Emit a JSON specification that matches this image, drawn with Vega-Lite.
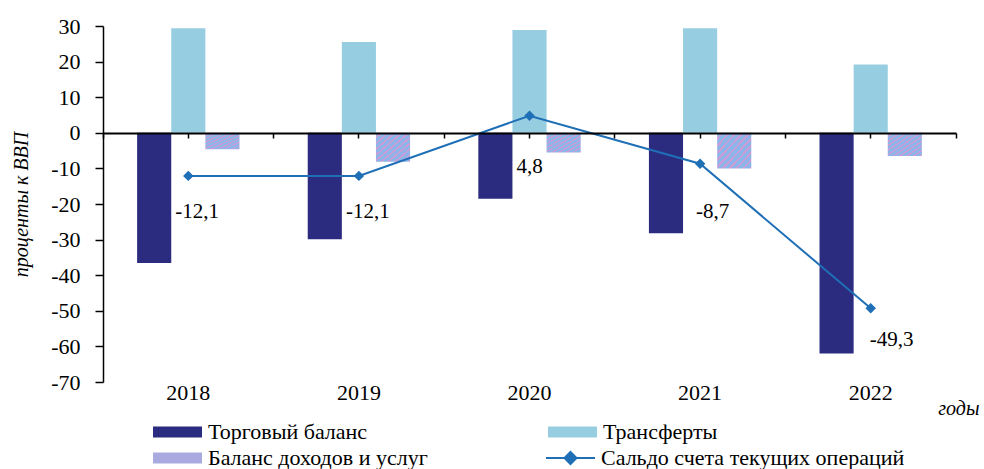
{
  "$schema": "https://vega.github.io/schema/vega-lite/v6.json",
  "width": 853,
  "height": 356,
  "autosize": {"type": "none"},
  "padding": {"left": 103, "top": 26, "right": 28, "bottom": 87},
  "background": "white",
  "config": {
    "view": {"stroke": null},
    "locale": {"number": {"decimal": ",", "thousands": " ", "grouping": [3], "currency": ["", ""], "minus": "-"}},
    "font": "Liberation Serif",
    "axis": {"labelFont": "Liberation Serif", "titleFont": "Liberation Serif", "labelColor": "black", "titleColor": "black", "grid": false},
    "legend": {"labelFont": "Liberation Serif"}
  },
  "datasets": {
    "bars": [
      {"year": "2018", "series": "Торговый баланс", "value": -36.6},
      {"year": "2018", "series": "Трансферты", "value": 29.4},
      {"year": "2018", "series": "Баланс доходов и услуг", "value": -4.6},
      {"year": "2019", "series": "Торговый баланс", "value": -29.9},
      {"year": "2019", "series": "Трансферты", "value": 25.5},
      {"year": "2019", "series": "Баланс доходов и услуг", "value": -8.1},
      {"year": "2020", "series": "Торговый баланс", "value": -18.5},
      {"year": "2020", "series": "Трансферты", "value": 28.9},
      {"year": "2020", "series": "Баланс доходов и услуг", "value": -5.5},
      {"year": "2021", "series": "Торговый баланс", "value": -28.2},
      {"year": "2021", "series": "Трансферты", "value": 29.4},
      {"year": "2021", "series": "Баланс доходов и услуг", "value": -10.0},
      {"year": "2022", "series": "Торговый баланс", "value": -62.0},
      {"year": "2022", "series": "Трансферты", "value": 19.2},
      {"year": "2022", "series": "Баланс доходов и услуг", "value": -6.5}
    ],
    "ca": [
      {"year": "2018", "series": "Сальдо счета текущих операций", "value": -12.1},
      {"year": "2019", "series": "Сальдо счета текущих операций", "value": -12.1},
      {"year": "2020", "series": "Сальдо счета текущих операций", "value": 4.8},
      {"year": "2021", "series": "Сальдо счета текущих операций", "value": -8.7},
      {"year": "2022", "series": "Сальдо счета текущих операций", "value": -49.3}
    ]
  },
  "encoding": {
    "y": {
      "field": "value", "type": "quantitative",
      "scale": {"domain": [-70, 30], "nice": false, "zero": false},
      "axis": {"values": [-70, -60, -50, -40, -30, -20, -10, 0, 10, 20, 30], "format": "d", "labelOverlap": false, "labelFont": "Liberation Serif", "labelFontSize": 22, "labelPadding": 15, "tickSize": 8, "tickColor": "black", "tickWidth": 1.5, "domainColor": "black", "domainWidth": 1.5, "title": "проценты к ВВП", "titleFont": "Liberation Serif", "titleFontStyle": "italic", "titleFontWeight": "normal", "titleFontSize": 20, "titlePadding": 19}
    }
  },
  "resolve": {"axis": {"x": "independent", "y": "shared"}},
  "layer": [
    {
      "data": {"name": "bars"},
      "mark": {"type": "bar", "orient": "vertical"},
      "encoding": {
        "x": {
          "field": "year", "type": "nominal",
          "scale": {"paddingInner": 0, "paddingOuter": 0},
          "axis": {"orient": "bottom", "domain": false, "ticks": false, "labelAngle": 0, "labelFont": "Liberation Serif", "labelFontSize": 22, "labelPadding": 0, "title": "годы", "titleFont": "Liberation Serif", "titleFontStyle": "italic", "titleFontWeight": "normal", "titleFontSize": 20, "titleAnchor": "end", "titleAlign": "right", "titleBaseline": "middle", "titleX": 876, "titleY": 26}
        },
        "xOffset": {"field": "series", "type": "nominal", "scale": {"domain": ["Торговый баланс", "Трансферты", "Баланс доходов и услуг"], "paddingInner": 0, "paddingOuter": 1}},
        "fill": {
          "field": "series", "type": "nominal",
          "scale": {"domain": ["Торговый баланс", "Трансферты", "Баланс доходов и услуг"], "range": ["#2b2c80", "#97cde0", "#a9abe0"]},
          "condition": {"test": "datum.series === 'Баланс доходов и услуг'", "value": {"gradient": "linear", "x1": 0, "y1": 0, "x2": 1, "y2": 1, "stops": [
            {"offset": 0, "color": "#8ab4ea"}, {"offset": 0.0625, "color": "#8ab4ea"}, {"offset": 0.0625, "color": "#c99dd6"}, {"offset": 0.1, "color": "#c99dd6"},
            {"offset": 0.1, "color": "#8ab4ea"}, {"offset": 0.1625, "color": "#8ab4ea"}, {"offset": 0.1625, "color": "#c99dd6"}, {"offset": 0.2, "color": "#c99dd6"},
            {"offset": 0.2, "color": "#8ab4ea"}, {"offset": 0.2625, "color": "#8ab4ea"}, {"offset": 0.2625, "color": "#c99dd6"}, {"offset": 0.3, "color": "#c99dd6"},
            {"offset": 0.3, "color": "#8ab4ea"}, {"offset": 0.3625, "color": "#8ab4ea"}, {"offset": 0.3625, "color": "#c99dd6"}, {"offset": 0.4, "color": "#c99dd6"},
            {"offset": 0.4, "color": "#8ab4ea"}, {"offset": 0.4625, "color": "#8ab4ea"}, {"offset": 0.4625, "color": "#c99dd6"}, {"offset": 0.5, "color": "#c99dd6"},
            {"offset": 0.5, "color": "#8ab4ea"}, {"offset": 0.5625, "color": "#8ab4ea"}, {"offset": 0.5625, "color": "#c99dd6"}, {"offset": 0.6, "color": "#c99dd6"},
            {"offset": 0.6, "color": "#8ab4ea"}, {"offset": 0.6625, "color": "#8ab4ea"}, {"offset": 0.6625, "color": "#c99dd6"}, {"offset": 0.7, "color": "#c99dd6"},
            {"offset": 0.7, "color": "#8ab4ea"}, {"offset": 0.7625, "color": "#8ab4ea"}, {"offset": 0.7625, "color": "#c99dd6"}, {"offset": 0.8, "color": "#c99dd6"},
            {"offset": 0.8, "color": "#8ab4ea"}, {"offset": 0.8625, "color": "#8ab4ea"}, {"offset": 0.8625, "color": "#c99dd6"}, {"offset": 0.9, "color": "#c99dd6"},
            {"offset": 0.9, "color": "#8ab4ea"}, {"offset": 0.9625, "color": "#8ab4ea"}, {"offset": 0.9625, "color": "#c99dd6"}, {"offset": 1, "color": "#c99dd6"}
          ]}},
          "legend": {
            "orient": "none", "legendX": 63.5, "legendY": 395, "columns": 2, "direction": "horizontal", "title": null,
            "labelFont": "Liberation Serif", "labelFontSize": 22, "labelColor": "black", "labelLimit": 400,
            "symbolType": "M-2.45,-0.55H2.45V0.55H-2.45Z", "symbolSize": 400, "symbolStrokeWidth": 0, "symbolOffset": 0, "labelOffset": 19.5,
            "columnPadding": 119, "rowPadding": 4, "gridAlign": "all",
            "encode": {"symbols": {"update": {"fill": [
              {"test": "datum.value === 'Баланс доходов и услуг'", "value": {"gradient": "linear", "x1": 0, "y1": 0, "x2": 1, "y2": 1, "stops": [
                {"offset": 0, "color": "#8ab4ea"}, {"offset": 0.0625, "color": "#8ab4ea"}, {"offset": 0.0625, "color": "#c99dd6"}, {"offset": 0.1, "color": "#c99dd6"},
                {"offset": 0.1, "color": "#8ab4ea"}, {"offset": 0.1625, "color": "#8ab4ea"}, {"offset": 0.1625, "color": "#c99dd6"}, {"offset": 0.2, "color": "#c99dd6"},
                {"offset": 0.2, "color": "#8ab4ea"}, {"offset": 0.2625, "color": "#8ab4ea"}, {"offset": 0.2625, "color": "#c99dd6"}, {"offset": 0.3, "color": "#c99dd6"},
                {"offset": 0.3, "color": "#8ab4ea"}, {"offset": 0.3625, "color": "#8ab4ea"}, {"offset": 0.3625, "color": "#c99dd6"}, {"offset": 0.4, "color": "#c99dd6"},
                {"offset": 0.4, "color": "#8ab4ea"}, {"offset": 0.4625, "color": "#8ab4ea"}, {"offset": 0.4625, "color": "#c99dd6"}, {"offset": 0.5, "color": "#c99dd6"},
                {"offset": 0.5, "color": "#8ab4ea"}, {"offset": 0.5625, "color": "#8ab4ea"}, {"offset": 0.5625, "color": "#c99dd6"}, {"offset": 0.6, "color": "#c99dd6"},
                {"offset": 0.6, "color": "#8ab4ea"}, {"offset": 0.6625, "color": "#8ab4ea"}, {"offset": 0.6625, "color": "#c99dd6"}, {"offset": 0.7, "color": "#c99dd6"},
                {"offset": 0.7, "color": "#8ab4ea"}, {"offset": 0.7625, "color": "#8ab4ea"}, {"offset": 0.7625, "color": "#c99dd6"}, {"offset": 0.8, "color": "#c99dd6"},
                {"offset": 0.8, "color": "#8ab4ea"}, {"offset": 0.8625, "color": "#8ab4ea"}, {"offset": 0.8625, "color": "#c99dd6"}, {"offset": 0.9, "color": "#c99dd6"},
                {"offset": 0.9, "color": "#8ab4ea"}, {"offset": 0.9625, "color": "#8ab4ea"}, {"offset": 0.9625, "color": "#c99dd6"}, {"offset": 1, "color": "#c99dd6"}
              ]}},
              {"scale": "fill", "field": "value"}
            ]}}}
          }
        }
      }
    },
    {
      "data": {"name": "ca"},
      "mark": {"type": "line", "strokeWidth": 2},
      "encoding": {
        "x": {"field": "year", "type": "nominal", "axis": {"orient": "bottom", "offset": -249, "zindex": 1, "domain": true, "domainColor": "black", "domainWidth": 2, "ticks": true, "tickColor": "black", "tickWidth": 1.5, "tickSize": 5, "labels": false, "title": null}},
        "stroke": {
          "field": "series", "type": "nominal",
          "scale": {"range": ["#1f6fb6"]},
          "legend": {
            "orient": "none", "legendX": 456.5, "legendY": 421, "title": null,
            "labelFont": "Liberation Serif", "labelFontSize": 22, "labelColor": "black", "labelLimit": 400,
            "symbolType": "M-2.45,0H2.45M0,-0.6L0.6,0L0,0.6L-0.6,0Z", "symbolSize": 400, "symbolStrokeWidth": 2, "symbolFillColor": "#1f6fb6", "symbolOffset": 0, "labelOffset": 19.5,
            "encode": {"symbols": {"update": {"fill": {"value": "#1f6fb6"}}}}
          }
        }
      }
    },
    {
      "data": {"name": "ca"},
      "mark": {"type": "point", "shape": "diamond", "filled": true, "size": 110, "color": "#1f6fb6", "opacity": 1},
      "encoding": {
        "x": {"field": "year", "type": "nominal", "axis": {"orient": "bottom", "offset": -249, "zindex": 1, "domain": false, "ticks": true, "tickColor": "black", "tickWidth": 1.5, "tickSize": 5, "bandPosition": 1, "tickExtra": true, "labels": false, "title": null}}
      }
    },
    {
      "data": {"name": "ca"},
      "transform": [{"filter": "datum.year === '2018' || datum.year === '2019'"}],
      "mark": {"type": "text", "align": "left", "baseline": "middle", "dx": -13, "dy": 36, "font": "Liberation Serif", "fontSize": 21, "color": "black"},
      "encoding": {
        "x": {"field": "year", "type": "nominal", "axis": null},
        "text": {"field": "value", "type": "quantitative", "format": ".1f"}
      }
    },
    {
      "data": {"name": "ca"},
      "transform": [{"filter": "datum.year === '2020'"}],
      "mark": {"type": "text", "align": "left", "baseline": "middle", "dx": -13, "dy": 51, "font": "Liberation Serif", "fontSize": 21, "color": "black"},
      "encoding": {
        "x": {"field": "year", "type": "nominal", "axis": null},
        "text": {"field": "value", "type": "quantitative", "format": ".1f"}
      }
    },
    {
      "data": {"name": "ca"},
      "transform": [{"filter": "datum.year === '2021'"}],
      "mark": {"type": "text", "align": "left", "baseline": "middle", "dx": -4, "dy": 48, "font": "Liberation Serif", "fontSize": 21, "color": "black"},
      "encoding": {
        "x": {"field": "year", "type": "nominal", "axis": null},
        "text": {"field": "value", "type": "quantitative", "format": ".1f"}
      }
    },
    {
      "data": {"name": "ca"},
      "transform": [{"filter": "datum.year === '2022'"}],
      "mark": {"type": "text", "align": "left", "baseline": "middle", "dx": -1, "dy": 32, "font": "Liberation Serif", "fontSize": 21, "color": "black"},
      "encoding": {
        "x": {"field": "year", "type": "nominal", "axis": null},
        "text": {"field": "value", "type": "quantitative", "format": ".1f"}
      }
    }
  ]
}
